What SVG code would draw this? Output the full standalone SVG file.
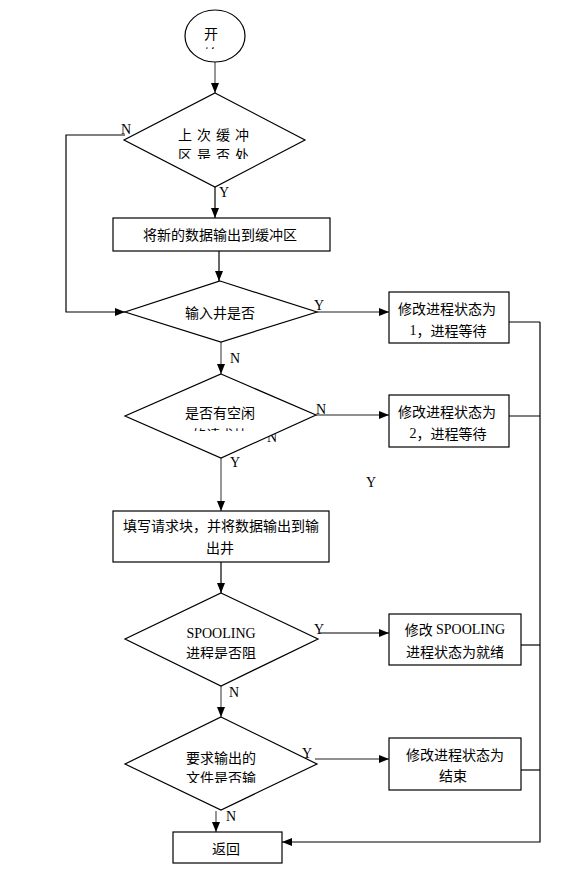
<svg xmlns="http://www.w3.org/2000/svg" width="576" height="895" viewBox="0 0 576 895">
<style>
.shape{fill:#fff;stroke:#000;stroke-width:1.2}
.cn{font-family:"Noto Sans CJK SC","Noto Sans",sans-serif;font-size:14px;fill:#000;text-anchor:middle;dominant-baseline:central}
.lat{font-family:"Liberation Serif",serif;font-size:14px;fill:#000;text-anchor:middle;dominant-baseline:central}
.lbl{font-family:"Liberation Serif",serif;font-size:14px;fill:#000}
.ln{fill:none;stroke:#000;stroke-width:1.2}
.gr{fill:none;stroke:#6a6a6a;stroke-width:1.4}
</style>
<defs>
<marker id="ah" markerUnits="userSpaceOnUse" markerWidth="10" markerHeight="10" viewBox="0 0 10 8" refX="10" refY="4" orient="auto">
<path d="M0,0 L10,4 L0,8 z" fill="#000"/>
</marker>
<clipPath id="c0"><rect x="180" y="10" width="70" height="39"/></clipPath>
<clipPath id="c1"><rect x="160" y="115" width="110" height="44"/></clipPath>
<clipPath id="c3"><rect x="160" y="395" width="120" height="36"/></clipPath>
<clipPath id="c4"><rect x="160" y="615" width="120" height="44"/></clipPath>
<clipPath id="c5"><rect x="160" y="740" width="120" height="43"/></clipPath>
</defs>

<g id="connectors">
<line class="gr" x1="215" y1="61" x2="215" y2="93" marker-end="url(#ah)"/>
<polyline class="ln" points="125,135 66,135 66,312 125,312" marker-end="url(#ah)"/>
<line class="ln" x1="215" y1="187" x2="215" y2="218" marker-end="url(#ah)"/>
<line class="ln" x1="219" y1="251" x2="219" y2="281" marker-end="url(#ah)"/>
<line class="gr" x1="317" y1="312" x2="389" y2="312" marker-end="url(#ah)"/>
<line class="gr" x1="221" y1="342" x2="221" y2="374" marker-end="url(#ah)"/>
<line class="gr" x1="316" y1="415" x2="389" y2="415" marker-end="url(#ah)"/>
<line class="gr" x1="221" y1="458" x2="221" y2="511" marker-end="url(#ah)"/>
<line class="ln" x1="221" y1="562" x2="221" y2="593" marker-end="url(#ah)"/>
<line class="ln" x1="320" y1="633" x2="389" y2="633" marker-end="url(#ah)"/>
<line class="gr" x1="221" y1="686" x2="221" y2="717" marker-end="url(#ah)"/>
<line class="gr" x1="315" y1="759" x2="389" y2="759" marker-end="url(#ah)"/>
<line class="gr" x1="216" y1="811" x2="216" y2="832" marker-end="url(#ah)"/>
<line class="ln" x1="504" y1="322" x2="540" y2="322"/>
<line class="ln" x1="504" y1="416" x2="540" y2="416"/>
<line class="ln" x1="517" y1="645" x2="540" y2="645"/>
<line class="ln" x1="517" y1="770" x2="540" y2="770"/>
<polyline class="ln" points="540,322 540,842 282,842" marker-end="url(#ah)"/>
<text class="lbl" x="121" y="134">N</text>
<text class="lbl" x="219" y="197">Y</text>
<text class="lbl" x="314" y="310">Y</text>
<text class="lbl" x="230" y="363">N</text>
<text class="lbl" x="316" y="414">N</text>
<text class="lbl" x="267" y="442">N</text>
<text class="lbl" x="230" y="467">Y</text>
<text class="lbl" x="366" y="487">Y</text>
<text class="lbl" x="314" y="634">Y</text>
<text class="lbl" x="229" y="697">N</text>
<text class="lbl" x="302" y="758">Y</text>
<text class="lbl" x="226" y="821">N</text>
</g>

<g id="start">
<ellipse class="shape" cx="215" cy="36" rx="30" ry="26"/>
<g clip-path="url(#c0)">
<text class="cn" x="211" y="33">开</text>
<text class="cn" x="211" y="53">始</text>
</g>
</g>

<g id="d1">
<polygon class="shape" points="215,93 305,140 215,187 124,140"/>
<g clip-path="url(#c1)">
<text class="cn" x="216" y="134" letter-spacing="5">上次缓冲</text>
<text class="cn" x="216" y="154" letter-spacing="5">区是否处</text>
</g>
</g>

<g id="box1">
<rect class="shape" x="113" y="218" width="217" height="33"/>
<text class="cn" x="220" y="234">将新的数据输出到缓冲区</text>
</g>

<g id="d2">
<polygon class="shape" points="220,281 317,312 221,342 125,312"/>
<text class="cn" x="220" y="312">输入井是否</text>
</g>

<g id="d3">
<polygon class="shape" points="221,374 316,415 221,458 125,416"/>
<g clip-path="url(#c3)">
<text class="cn" x="220" y="412">是否有空闲</text>
<text class="cn" x="220" y="434">的请求块</text>
</g>
</g>

<g id="box2">
<rect class="shape" x="389" y="292" width="120" height="51"/>
<text class="cn" x="447" y="308">修改进程状态为</text>
<text class="cn" x="448" y="330"><tspan font-family="Liberation Serif">1</tspan>，进程等待</text>
</g>

<g id="box3">
<rect class="shape" x="389" y="395" width="120" height="52"/>
<text class="cn" x="447" y="411">修改进程状态为</text>
<text class="cn" x="448" y="433"><tspan font-family="Liberation Serif">2</tspan>，进程等待</text>
</g>

<g id="box4">
<rect class="shape" x="113" y="511" width="216" height="51"/>
<text class="cn" x="221" y="525">填写请求块，并将数据输出到输</text>
<text class="cn" x="220" y="547">出井</text>
</g>

<g id="d4">
<polygon class="shape" points="221,593 318,639 221,686 125,639"/>
<g clip-path="url(#c4)">
<text class="lat" x="221" y="633">SPOOLING</text>
<text class="cn" x="221" y="652">进程是否阻</text>
</g>
</g>

<g id="box5">
<rect class="shape" x="389" y="614" width="132" height="51"/>
<text class="cn" x="455" y="629">修改 <tspan font-family="Liberation Serif">SPOOLING</tspan></text>
<text class="cn" x="455" y="651">进程状态为就绪</text>
</g>

<g id="d5">
<polygon class="shape" points="221,717 317,764 221,810 125,764"/>
<g clip-path="url(#c5)">
<text class="cn" x="221" y="757">要求输出的</text>
<text class="cn" x="221" y="777">文件是否输</text>
</g>
</g>

<g id="box6">
<rect class="shape" x="389" y="738" width="132" height="52"/>
<text class="cn" x="455" y="754">修改进程状态为</text>
<text class="cn" x="453" y="775">结束</text>
</g>

<g id="return">
<rect class="shape" x="173" y="832" width="109" height="31"/>
<text class="cn" x="226" y="848">返回</text>
</g>
</svg>
